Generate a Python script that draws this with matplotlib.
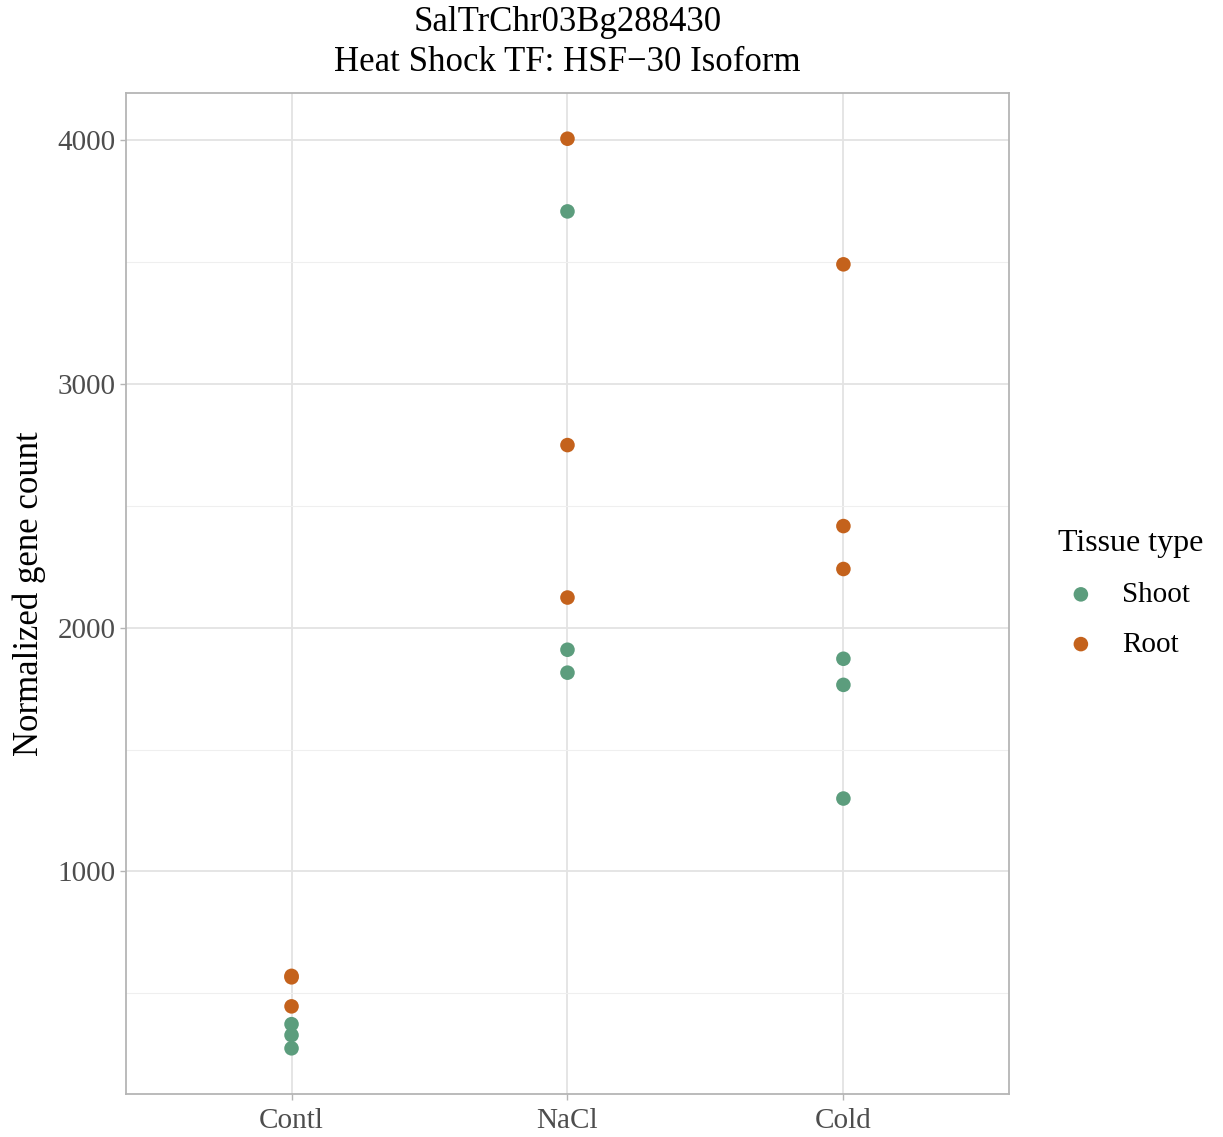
import numpy as np
import matplotlib.pyplot as plt

plt.rcParams['font.family'] = ['Liberation Serif', 'DejaVu Serif']

conditions = ['Contl', 'NaCl', 'Cold']
tissues = ['Shoot', 'Root']
colors = {'Shoot': '#5c9d7d', 'Root': '#c4621c'}

shoot_counts = {
    'Contl': [374, 329, 275],
    'NaCl': [3706, 1909, 1815],
    'Cold': [1872, 1765, 1299],
}
root_counts = {
    'Contl': [572, 566, 447],
    'NaCl': [4004, 2748, 2123],
    'Cold': [3489, 2416, 2240],
}

fig = plt.figure(figsize=(12.23, 11.37), dpi=100)
ax = fig.add_axes([0.103, 0.038, 0.722, 0.880])

for tissue, counts in [('Shoot', shoot_counts), ('Root', root_counts)]:
    xs, ys = [], []
    for i, cond in enumerate(conditions):
        xs += [i + 1] * len(counts[cond])
        ys += counts[cond]
    ax.scatter(xs, ys, s=110, color=colors[tissue], edgecolors='none',
               label=tissue, zorder=3)

allvals = sum(shoot_counts.values(), []) + sum(root_counts.values(), [])
lo, hi = min(allvals), max(allvals)
pad = 0.05 * (hi - lo)
ax.set_ylim(lo - pad, hi + pad)
ax.set_xlim(0.4, 3.6)

ax.set_xticks([1, 2, 3])
ax.set_xticklabels(conditions)
ax.set_yticks([1000, 2000, 3000, 4000])
ax.set_yticks([500, 1500, 2500, 3500], minor=True)
ax.grid(True, which='major', color='#e3e3e3', linewidth=1.3)
ax.grid(True, which='minor', axis='y', color='#efefef', linewidth=0.8)
ax.set_axisbelow(True)
for sp in ax.spines.values():
    sp.set_color('#b5b5b5')
    sp.set_linewidth(1.3)
ax.tick_params(axis='both', which='major', labelsize=21, labelcolor='#4d4d4d',
               color='#b5b5b5', length=4, width=1)
ax.tick_params(axis='x', which='major', pad=6)
ax.tick_params(axis='both', which='minor', length=0)

ax.set_ylabel('Normalized gene count', fontsize=25, labelpad=8)
ax.set_title('SalTrChr03Bg288430\nHeat Shock TF: HSF\u221230 Isoform',
             fontsize=25, pad=16, linespacing=1.3)

leg = ax.legend(title='Tissue type', loc='center left', bbox_to_anchor=(1.055, 0.5),
                frameon=False, fontsize=21, title_fontsize=23,
                borderpad=0, borderaxespad=0, handlelength=1.6,
                handletextpad=0.6, labelspacing=0.8, markerscale=1.0)
leg._legend_box.align = 'left'

fig.savefig('out.png', dpi=100)
